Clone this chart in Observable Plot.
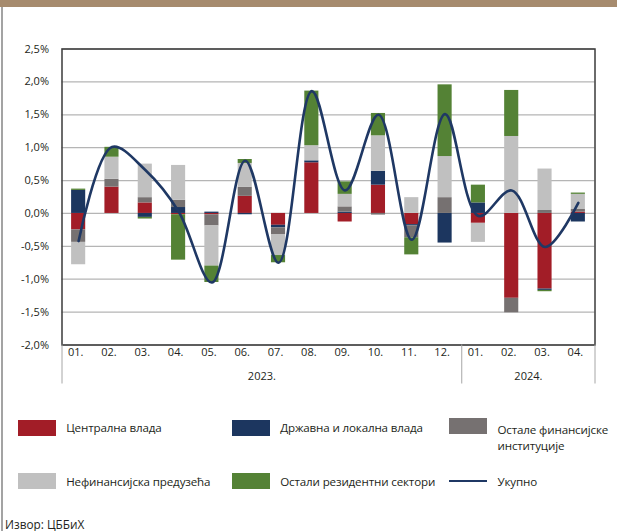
<!DOCTYPE html>
<html><head><meta charset="utf-8">
<script src="https://cdn.jsdelivr.net/npm/d3@7"></script>
<script src="https://cdn.jsdelivr.net/npm/@observablehq/plot@0.6"></script>
<style>
body{margin:0;background:#fff;font-family:"Open Sans",sans-serif;color:#231f20}
#page{position:relative;width:617px;height:531px;overflow:hidden;background:#fff}
#band{position:absolute;left:0;top:0;width:617px;height:7px;background:#a68b6e}
#edge{position:absolute;left:1px;top:7px;width:2px;height:524px;background:#a3a3a3}
#chart{position:absolute;left:0;top:0}
.sw{position:absolute;width:38px;height:16px}
.ln{position:absolute;width:38px;height:2.5px}
.lab{position:absolute;font-size:11.6px;letter-spacing:-0.15px;line-height:16px;white-space:nowrap}
#src{position:absolute;left:5px;top:516px;font-size:11.8px;line-height:16px}
</style></head>
<body><div id="page"><div id="band"></div><div id="edge"></div><div id="chart"></div><div id="legend"></div><div id="src">Извор: ЦББиХ</div></div>
<script>
// ---- data ----
const monthLabels = ["01.","02.","03.","04.","05.","06.","07.","08.","09.","10.","11.","12.","01.","02.","03.","04."];
const yearLabels = ["2023.","2024."];
const yearMonthCounts = [12, 4];
const seriesNames = ["Централна влада","Државна и локална влада","Остале финансијске институције","Нефинансијска предузећа","Остали резидентни сектори"];
const centralGov   = [-0.25, 0.40, 0.16, -0.02, -0.02, 0.26, -0.18, 0.77, -0.13, 0.43, -0.17, 0.00, -0.15, -1.29, -1.15, 0.02];
const stateLocal   = [ 0.35, 0.00,-0.06,  0.09,  0.02,-0.02, -0.04, 0.03,  0.02, 0.21, -0.02,-0.45,  0.16,  0.00, -0.02,-0.13];
const otherFin     = [-0.19, 0.12, 0.08,  0.11, -0.17, 0.14, -0.10, 0.00,  0.08,-0.025,-0.18, 0.24,  0.00, -0.22, 0.045, 0.04];
const nonFin       = [-0.34, 0.335,0.51,  0.53, -0.61, 0.36, -0.32, 0.23,  0.19, 0.54,  0.24, 0.625,-0.29,  1.17,  0.63, 0.23];
const otherRes     = [ 0.02, 0.15,-0.025,-0.69, -0.25, 0.06, -0.11, 0.83,  0.19, 0.34, -0.26, 1.09,  0.27,  0.70, -0.02, 0.02];
const total        = [-0.42, 1.01, 0.66,  0.03, -1.05, 0.80, -0.75, 1.86,  0.35, 1.50, -0.40, 1.51, -0.04,  0.35, -0.51, 0.16];
const yTicks = [-2.0,-1.5,-1.0,-0.5,0.0,0.5,1.0,1.5,2.0,2.5];
const totalName = "Укупно";

const colors = ["#a21d27","#1c365f","#767171","#c0c0c0","#548235"];
const lineColor = "#1f3864";

const seriesValues = [centralGov, stateLocal, otherFin, nonFin, otherRes];
const rows = [];
seriesValues.forEach((vals, s) => vals.forEach((v, i) => rows.push({i0: i, i1: i + 1, value: v, series: seriesNames[s]})));
const lineData = total.map((v, i) => ({x: i + 0.5, value: v}));
const monthData = monthLabels.map((t, i) => ({x: i + 0.5, t}));
let acc = 0;
const yearData = yearLabels.map((t, k) => { const start = acc; acc += yearMonthCounts[k]; return {x: (start + acc) / 2, t}; });
const bounds = [0]; { let a = 0; for (const c of yearMonthCounts) { a += c; bounds.push(a); } }
const fmt = d => d.toFixed(1).replace(".", ",") + "%";

const chart = Plot.plot({
  width: 617, height: 395,
  marginTop: 48.5, marginBottom: 50.5, marginLeft: 61.5, marginRight: 22.5,
  style: {fontFamily: "Open Sans, sans-serif", fontSize: "11px", color: "#231f20", background: "transparent"},
  x: {domain: [0, monthLabels.length], axis: null},
  y: {domain: [-2, 2.5], axis: null},
  color: {domain: seriesNames, range: colors},
  marks: [
    Plot.ruleY(yTicks, {stroke: "#b5b5b5", strokeWidth: 1.3}),
    Plot.rectY(rows, Plot.stackY({x1: "i0", x2: "i1", y: "value", z: "series", fill: "series", order: seriesNames, insetLeft: 9.6, insetRight: 9.6})),
    Plot.line(lineData, {x: "x", y: "value", curve: "catmull-rom", stroke: lineColor, strokeWidth: 2.6}),
    Plot.frame({stroke: "#3b3b3b", strokeWidth: 1.5}),
    Plot.ruleX(bounds, {y1: -2, y2: -2, insetBottom: -39, stroke: "#a6a6a6", strokeWidth: 1}),
    Plot.text(yTicks, {x: 0, y: d => d, text: fmt, textAnchor: "end", dx: -13, fill: "#231f20"}),
    Plot.text(monthData, {x: "x", text: "t", frameAnchor: "bottom", dy: 11, dx: -3, fill: "#231f20"}),
    Plot.text(yearData, {x: "x", text: "t", frameAnchor: "bottom", dy: 35, fill: "#231f20"})
  ]
});
document.getElementById("chart").appendChild(chart);

// ---- legend ----
const legend = document.getElementById("legend");
const slots = [
  {x: 17.7, y: 420, ty: 420},
  {x: 231.7, y: 420, ty: 420},
  {x: 449, y: 418, ty: 422},
  {x: 17.7, y: 473, ty: 473.5},
  {x: 231.7, y: 473, ty: 473.5}
];
const labelHtml = ["Централна влада","Државна и локална влада","Остале финансијске<br>институције","Нефинансијска предузећа","Остали резидентни сектори"];
seriesNames.forEach((n, k) => {
  const s = slots[k];
  const sw = document.createElement("div"); sw.className = "sw";
  sw.style.left = s.x + "px"; sw.style.top = s.y + "px"; sw.style.background = colors[k];
  legend.appendChild(sw);
  const lb = document.createElement("div"); lb.className = "lab";
  lb.style.left = (s.x + 48.5) + "px"; lb.style.top = s.ty + "px"; lb.innerHTML = labelHtml[k];
  legend.appendChild(lb);
});
{
  const ln = document.createElement("div"); ln.className = "ln";
  ln.style.left = "449px"; ln.style.top = "479.5px"; ln.style.background = lineColor;
  legend.appendChild(ln);
  const lb = document.createElement("div"); lb.className = "lab";
  lb.style.left = "497.5px"; lb.style.top = "473.5px"; lb.textContent = totalName;
  legend.appendChild(lb);
}
</script></body></html>
